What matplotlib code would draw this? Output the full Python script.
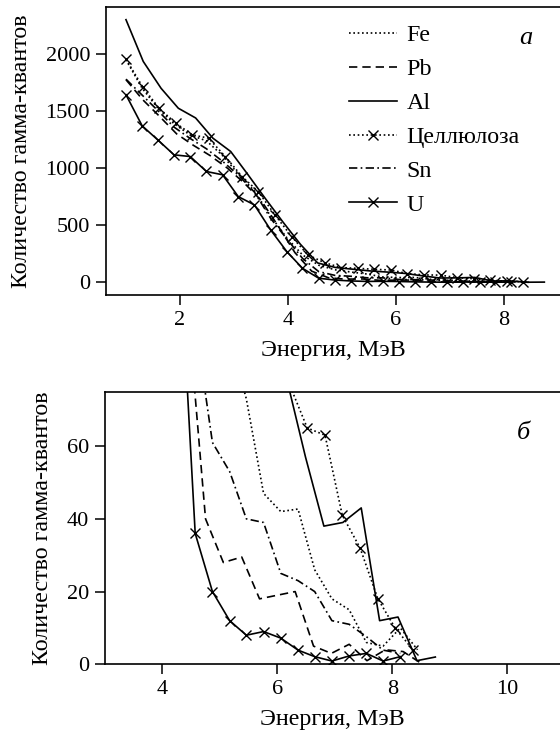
import matplotlib
matplotlib.use("Agg")
from matplotlib import pyplot as plt

plt.rcParams['font.family'] = ['Liberation Serif', 'DejaVu Serif']
plt.rcParams['font.size'] = 17

# energy grids (MeV), each material has its own bins
e_fe = [1.00, 1.30, 1.60, 1.89, 2.19, 2.49, 2.79, 3.08, 3.38, 3.68, 3.98, 4.27, 4.57,
        4.87, 5.17, 5.46, 5.76, 6.06, 6.36, 6.65, 6.95, 7.25, 7.55, 7.84, 8.14, 8.44]
e_pb = [1.00, 1.31, 1.63, 1.94, 2.25, 2.56, 2.88, 3.19, 3.50, 3.81, 4.13, 4.44, 4.75,
        5.06, 5.38, 5.69, 6.00, 6.31, 6.63, 6.94, 7.25, 7.56, 7.88, 8.19, 8.50]
e_al = [1.00, 1.32, 1.65, 1.97, 2.29, 2.61, 2.94, 3.26, 3.58, 3.91, 4.23, 4.55, 4.88,
        5.20, 5.52, 5.84, 6.17, 6.49, 6.81, 7.14, 7.46, 7.78, 8.10, 8.43, 8.75]
e_cell = [1.00, 1.31, 1.61, 1.92, 2.23, 2.53, 2.84, 3.15, 3.45, 3.76, 4.07, 4.37, 4.68,
          4.99, 5.29, 5.60, 5.91, 6.21, 6.52, 6.83, 7.13, 7.44, 7.75, 8.05, 8.36]
e_sn = [1.00, 1.30, 1.60, 1.89, 2.19, 2.49, 2.79, 3.08, 3.38, 3.68, 3.98, 4.27, 4.57,
        4.87, 5.17, 5.46, 5.76, 6.06, 6.36, 6.65, 6.95, 7.25, 7.55, 7.84, 8.14]
e_u = [1.00, 1.30, 1.60, 1.89, 2.19, 2.49, 2.79, 3.08, 3.38, 3.68, 3.98, 4.27, 4.57,
       4.87, 5.17, 5.46, 5.76, 6.06, 6.36, 6.65, 6.95, 7.25, 7.55, 7.84, 8.14]

# counts of gamma quanta
n_fe = [1950, 1700, 1520, 1390, 1290, 1240, 1110, 950, 800, 580, 390, 240, 150,
        110, 90, 73, 47, 42, 42.7, 26, 18, 15, 6, 5, 10, 4]
n_pb = [1775, 1600, 1450, 1300, 1200, 1110, 1000, 870, 720, 500, 260, 98, 40,
        28, 29.5, 18, 19, 20, 5, 3, 5.5, 1, 4, 3.5, 0.3]
n_al = [2301, 1935, 1700, 1525, 1440, 1263, 1146, 943, 735, 527, 334, 170, 130,
        115, 100, 90, 78, 57, 38, 39, 43, 12, 13, 1, 2]
n_cell = [1956, 1711, 1526, 1395, 1292, 1263, 1102, 927, 795, 591, 400, 240, 172,
          129, 123, 114, 108, 77, 65, 63, 41, 32, 18, 10, 4]
n_sn = [1780, 1640, 1500, 1360, 1260, 1170, 1060, 940, 790, 560, 380, 210, 94,
        61, 53, 40, 39, 25, 23, 20, 12, 11, 7.6, 3.9, 3.0]
n_u = [1643, 1371, 1243, 1117, 1102, 971, 942, 751, 678, 459, 269, 123, 36,
       20, 12, 8, 9, 7.2, 3.9, 2.1, 0.9, 2.3, 3.0, 0.9, 2.1]

labels = ['Fe', 'Pb', 'Al', 'Целлюлоза', 'Sn', 'U']

series = [
    (e_fe, n_fe, dict(ls=(0, (1, 1.6)), marker=None)),
    (e_pb, n_pb, dict(ls=(0, (5, 3)), marker=None)),
    (e_al, n_al, dict(ls='-', marker=None)),
    (e_cell, n_cell, dict(ls=(0, (1, 1.6)), marker='x')),
    (e_sn, n_sn, dict(ls=(0, (5, 2, 1, 2)), marker=None)),
    (e_u, n_u, dict(ls='-', marker='x')),
]

fig = plt.figure(figsize=(5.6, 7.31), dpi=100)
ax1 = fig.add_axes([106 / 560, 1 - 295 / 731, 1 - 106 / 560, 288 / 731])
ax2 = fig.add_axes([105 / 560, 1 - 664.3 / 731, 1 - 105 / 560, 272 / 731])

for ax in (ax1, ax2):
    for (e, n, st), lab in zip(series, labels):
        ax.plot(e, n, color='black', lw=1.2, ls=st['ls'], marker=st['marker'],
                markersize=7, markeredgewidth=1.0, label=lab)
    ax.spines['right'].set_visible(False)
    for s in ('left', 'top', 'bottom'):
        ax.spines[s].set_linewidth(1.2)
    ax.tick_params(direction='out', length=7, width=1.1, labelsize=16, pad=4.5)
    ax.set_xlabel('Энергия, МэВ', fontsize=17.3, labelpad=7)
    ax.set_ylabel('Количество гамма-квантов', fontsize=17.3, labelpad=10)

ax1.set_xlim(0.63, 9.04)
ax1.set_ylim(-111, 2412)
ax1.set_xticks([2, 4, 6, 8])
ax1.set_yticks([0, 500, 1000, 1500, 2000])

ax2.set_xlim(3.0, 10.92)
ax2.set_ylim(0, 74.8)
ax2.set_xticks([4, 6, 8, 10])
ax2.set_yticks([0, 20, 40, 60])

ax1.legend(loc='upper left', bbox_to_anchor=(0.515, 0.972), frameon=False,
           handlelength=1.96, handletextpad=0.42, labelspacing=0.5,
           borderaxespad=0, numpoints=1, fontsize=17.3)

ax1.text(0.91, 0.87, 'а', transform=ax1.transAxes, style='italic', fontsize=19)
ax2.text(0.905, 0.83, 'б', transform=ax2.transAxes, style='italic', fontsize=19)

fig.savefig('out.png', dpi=100)
